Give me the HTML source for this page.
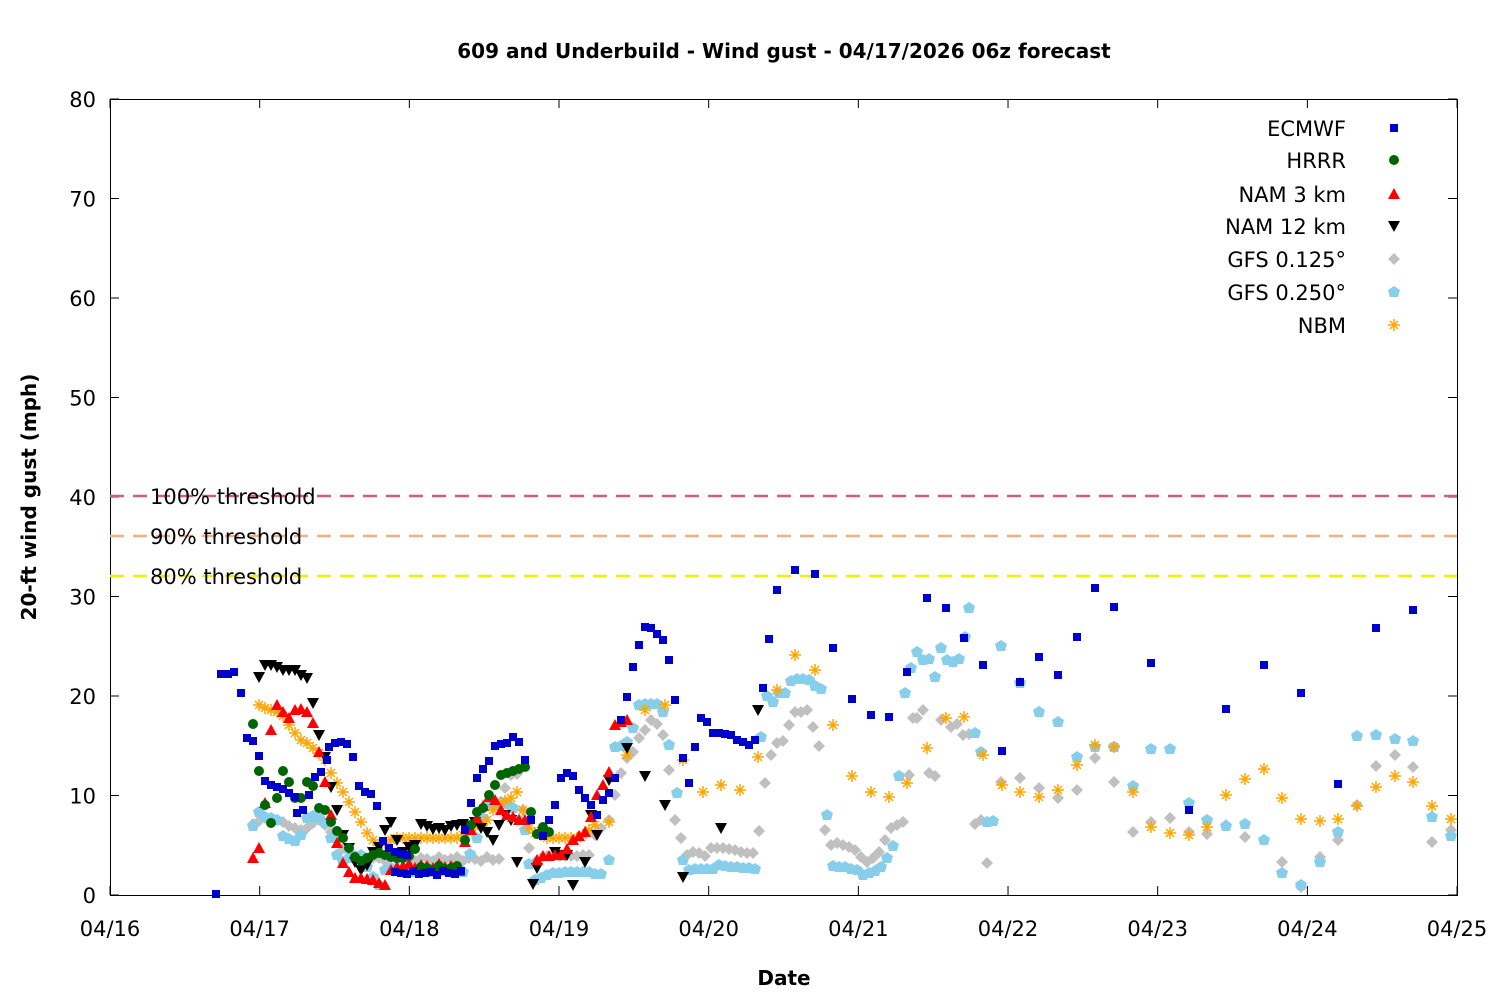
<!DOCTYPE html>
<html><head><meta charset="utf-8"><style>
body{margin:0;background:#fff;}
svg{display:block;font-family:"DejaVu Sans","Liberation Sans",sans-serif;}
</style></head><body>
<svg id="s" width="1500" height="1000" xmlns="http://www.w3.org/2000/svg">
<rect width="1500" height="1000" fill="#fff"/>
<text x="784" y="58" text-anchor="middle" font-size="20" font-weight="bold">609 and Underbuild - Wind gust - 04/17/2026 06z forecast</text>
<text x="784" y="985" text-anchor="middle" font-size="20" font-weight="bold">Date</text>
<text transform="translate(36,497) rotate(-90)" text-anchor="middle" font-size="20" font-weight="bold">20-ft wind gust (mph)</text>
<g id="ax" stroke="#000" stroke-width="1" fill="none"><rect x="110.5" y="99.5" width="1347" height="796"/></g>
<g id="tl" font-size="21"></g>
<line x1="110" y1="496" x2="1457" y2="496" stroke="#d0607a" stroke-width="2.5" stroke-dasharray="14,9"/>
<line x1="110" y1="536" x2="1457" y2="536" stroke="#f0b080" stroke-width="2.5" stroke-dasharray="14,9"/>
<line x1="110" y1="576" x2="1457" y2="576" stroke="#f0f000" stroke-width="2.5" stroke-dasharray="14,9"/>
<g font-size="21" fill="#000"><text x="150" y="504">100% threshold</text><text x="150" y="544">90% threshold</text><text x="150" y="584">80% threshold</text></g>
<g id="pts"></g>
<g id="leg" font-size="21"></g>
</svg>
<script>
var NS="http://www.w3.org/2000/svg",s=document.getElementById('s');
function el(p,t,a,txt){var e=document.createElementNS(NS,t);for(var k in a)e.setAttribute(k,a[k]);if(txt)e.textContent=txt;p.appendChild(e);return e;}
var ax=document.getElementById('ax'),tl=document.getElementById('tl');
for(var v=0;v<=80;v+=10){var y=895-v*9.95;el(ax,'line',{x1:110,y1:y,x2:119,y2:y});el(ax,'line',{x1:1457,y1:y,x2:1448,y2:y});el(tl,'text',{x:96,y:y+8,'text-anchor':'end'},String(v));}
var dl=['04/16','04/17','04/18','04/19','04/20','04/21','04/22','04/23','04/24','04/25'];
for(var i=0;i<10;i++){var x=110+i*149.67;el(ax,'line',{x1:x,y1:895,x2:x,y2:886});el(ax,'line',{x1:x,y1:99,x2:x,y2:108});el(tl,'text',{x:x,y:936,'text-anchor':'middle'},dl[i]);}
var G=document.getElementById('pts');
function mk(p,t,x,y){
 if(t==0)el(p,'rect',{x:x-4,y:y-4,width:8,height:8,fill:'#0000cc'});
 else if(t==1)el(p,'circle',{cx:x,cy:y,r:5,fill:'#006400'});
 else if(t==2)el(p,'polygon',{points:(x)+','+(y-6)+' '+(x-6)+','+(y+5)+' '+(x+6)+','+(y+5),fill:'#ff0000'});
 else if(t==3)el(p,'polygon',{points:(x)+','+(y+6)+' '+(x-6)+','+(y-5)+' '+(x+6)+','+(y-5),fill:'#000'});
 else if(t==4)el(p,'polygon',{points:x+','+(y-6)+' '+(x+6)+','+y+' '+x+','+(y+6)+' '+(x-6)+','+y,fill:'#c0c0c0'});
 else if(t==5)el(p,'polygon',{points:x+','+(y-6)+' '+(x+6)+','+(y-2)+' '+(x+4)+','+(y+5)+' '+(x-4)+','+(y+5)+' '+(x-6)+','+(y-2),fill:'#87ceeb'});
 else{var g=el(p,'g',{stroke:'#ffa500','stroke-width':1.5});el(g,'line',{x1:x-6,y1:y,x2:x+6,y2:y});el(g,'line',{x1:x,y1:y-6,x2:x,y2:y+6});el(g,'line',{x1:x-4,y1:y-4,x2:x+4,y2:y+4});el(g,'line',{x1:x-4,y1:y+4,x2:x+4,y2:y-4});}
}
function P(a){var r=[];for(var i=0;i<a.length;i+=2)r.push([a[i],a[i+1]]);return r;}
function fill(x0,x1,y,j){var r=[];for(var x=x0;x<=x1;x+=6)r.push([x,y+Math.round(Math.sin(x*1.7)*j)]);return r;}
var D=[];
D[0]=P([216,894,221,674,228,674,234,672,241,693,247,738,253,741,259,756,265,781,271,785,277,787,283,789,289,793,295,797,297,813,303,810,309,795,315,777,321,772,327,760,329,747,335,743,341,742,347,744,353,757,359,786,365,792,371,794,377,806,383,841,389,848,395,852,401,854,407,855]).concat(fill(395,465,873,2)).concat(P([465,830,471,803,477,778,483,769,489,761,495,746,501,744,507,743,513,737,519,742,525,760,531,820,543,836,549,820,555,805,561,778,567,773,573,776,579,790,585,798,591,805,597,815,603,800,609,793,615,778,621,720,627,697,633,667,639,645,645,627,651,628,657,634,663,640,669,660,675,700,683,758,689,783,695,747,701,718,707,722,713,733,719,733,725,734,731,735,737,740,743,742,749,745,755,740,763,688,769,639,777,590,795,570,815,574,833,648,852,699,871,715,889,717,907,672,927,598,946,608,964,638,983,665,1002,751,1020,682,1039,657,1058,675,1077,637,1095,588,1114,607,1151,663,1189,810,1226,709,1264,665,1301,693,1338,784,1376,628,1413,610]));
D[1]=P([253,724,259,771,265,805,271,823,277,798,283,771,289,782,295,798,301,798,307,782,313,786,319,808,325,810,331,822,337,831,343,838,349,848,355,857,361,861,367,858,373,855,379,853,385,855,391,857,397,858,403,858,409,856,415,849]).concat(fill(421,460,868,2)).concat(P([465,840,471,825,477,812,483,808,489,795,495,785,501,775,507,773,513,771,519,769,525,767,531,812,537,834,543,827,549,832]));
D[2]=P([253,858,259,848,265,803,271,730,277,705,283,712,289,718,295,710,301,709,307,712,313,723,319,752,325,782,331,815,337,843,343,863,349,872,355,878,361,878,367,879,373,880,379,883,385,885,391,870]).concat(fill(397,455,866,2)).concat(P([459,871,465,842,471,830,477,818,483,806,489,797,495,800,501,810,507,815,513,817,519,820,525,820,537,860,543,856,549,856,555,855,561,855,567,849,573,840,579,836,585,832,591,817,597,795,603,785,609,772,615,725,621,722,627,720]));
D[3]=P([259,677,265,665,271,665,277,667,283,670,289,670,295,670,301,675,307,678,313,703,319,735,325,757,331,787,337,810,343,835,349,848,355,862,361,870,367,865,373,852,379,847,385,830,391,822,397,840,403,852,409,847,415,845,421,824,427,826,433,829,439,828,445,830,451,826,457,825,463,824,469,826,475,822,481,828,487,832,493,840,499,825,505,815,511,820,517,862,533,884,537,868,543,832,555,852,561,855,567,855,573,885,585,862,591,815,597,835,609,780,627,748,645,776,665,805,683,877,721,828,758,710]);
D[4]=P([253,824,259,821,265,818,271,818,277,820,283,822,289,826,295,828,301,830,307,828,313,823,319,820,325,825,331,832,337,840,343,848,349,852,355,856,361,859]).concat(fill(367,500,859,2)).concat(P([505,788,511,775,517,774,523,810,529,848,535,862,541,858,547,856,553,855,559,856,565,856,571,856,577,856,583,855,589,855,595,835,601,828,609,820,615,795,621,773,627,758,633,752,639,738,645,730,651,720,657,724,663,735,669,770,675,820,681,838,687,855,693,852,699,853,705,856,711,848,717,848,723,848,729,849,735,850,741,852,747,853,753,853,759,831,765,783,771,755,777,743,783,741,789,725,795,712,801,712,807,710,813,727,819,746,825,830,831,845,837,843,843,845,849,847,855,850,861,857,867,862,873,858,879,852,885,840,891,828,897,825,903,822,909,775,913,718,917,718,923,710,929,773,935,776,941,720,951,727,957,724,963,735,969,734,975,824,981,820,987,863,1001,782,1020,778,1039,788,1058,798,1077,790,1095,758,1114,782,1133,832,1151,822,1170,818,1189,832,1207,834,1226,825,1245,837,1264,840,1282,862,1301,887,1320,857,1338,840,1357,805,1376,766,1395,755,1413,767,1432,842,1451,830]));
D[5]=P([253,826,259,812,265,817,271,818,277,820,283,836,289,839,295,841,301,835,307,818,313,816,319,818,325,823,331,838,337,855,343,862,349,858,355,856,361,855,367,867,373,877,379,885,385,870]).concat(fill(391,465,870,2)).concat(P([470,854,477,838,483,818,489,805,495,805,501,802,507,804,513,808,519,820,525,830,529,864,535,880,541,878,547,875,553,873,559,873,565,872,571,872,577,872,583,872,589,872,595,874,601,874,609,860,615,747,621,746,627,742,633,728,639,705,645,704,651,704,657,704,663,712,669,745,677,793,683,860,689,870,695,869,701,869,707,869,713,869,719,865,725,866,731,867,737,867,743,868,749,868,755,869,761,737,767,696,773,702,779,693,785,693,791,681,797,679,803,679,809,680,815,686,821,689,827,815,833,866,839,867,845,867,851,869,857,870,863,875,869,873,875,871,881,867,887,858,893,846,899,776,905,693,911,668,917,652,923,660,929,659,935,677,941,648,947,660,953,662,959,659,965,637,969,608,975,733,981,752,987,822,993,821,1001,646,1020,683,1039,712,1058,722,1077,757,1095,747,1114,747,1133,786,1151,749,1170,749,1189,803,1207,820,1226,826,1245,824,1264,840,1282,873,1301,885,1320,862,1338,832,1357,736,1376,735,1395,739,1413,741,1432,817,1451,836]));
D[6]=P([259,705,265,708,271,710,277,712,283,716,289,725,295,733,301,740,307,743,313,748,319,753,325,760,331,773,337,783,343,792,349,802,355,812,361,822,367,833,373,840,379,845,385,843,391,840,397,838,403,838,409,838,415,838,421,838,427,838,433,838,439,838,445,838,451,838,457,838,463,835,469,830,475,826,481,826,487,820,493,810,499,805,505,801,511,798,517,792,523,810,529,828,535,833,541,835,547,838,553,838,559,838,565,838,571,838,577,838,583,835,589,830,595,825,609,822,627,755,645,710,665,705,683,760,703,792,721,785,740,790,758,757,777,690,795,655,815,670,833,725,852,776,871,792,889,797,907,783,927,748,946,718,964,717,983,755,1002,785,1020,792,1039,797,1058,790,1077,765,1095,745,1114,747,1133,792,1151,827,1170,833,1189,835,1207,827,1226,795,1245,779,1264,769,1282,798,1301,819,1320,821,1338,819,1357,806,1376,787,1395,776,1413,782,1432,806,1451,819]);
var order=[4,5,6,3,2,1,0];
order.forEach(function(t){D[t].forEach(function(p){mk(G,t,p[0],p[1]);});});
var L=document.getElementById('leg'),names=['ECMWF','HRRR','NAM 3 km','NAM 12 km','GFS 0.125°','GFS 0.250°','NBM'],ly=[128,160,194,226,259,292,325];
for(var i=0;i<7;i++){el(L,'text',{x:1346,y:ly[i]+8,'text-anchor':'end'},names[i]);mk(L,i,1394,ly[i]);}
</script>
</body></html>
